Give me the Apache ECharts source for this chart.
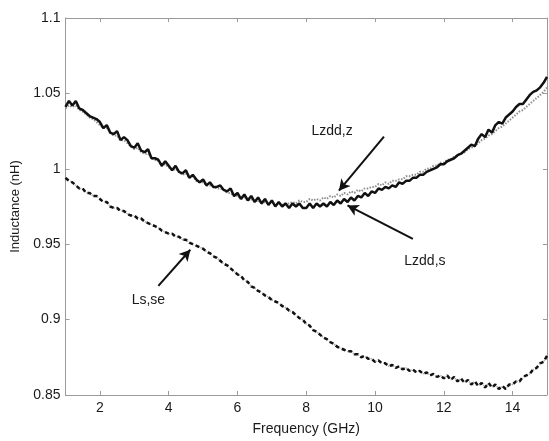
<!DOCTYPE html>
<html>
<head>
<meta charset="utf-8">
<script src="https://cdn.jsdelivr.net/npm/echarts@6/dist/echarts.min.js"></script>
<style>
html,body{margin:0;padding:0;background:#fff;}
#chart{width:549px;height:441px;}
</style>
</head>
<body>
<div id="chart"></div>
<script>
var freq = [1.0,1.1,1.2,1.3,1.4,1.5,1.6,1.7,1.8,1.9,2.0,2.1,2.2,2.3,2.4,2.5,2.6,2.7,2.8,2.9,
3.0,3.1,3.2,3.3,3.4,3.5,3.6,3.7,3.8,3.9,4.0,4.1,4.2,4.3,4.4,4.5,4.6,4.7,4.8,4.9,
5.0,5.1,5.2,5.3,5.4,5.5,5.6,5.7,5.8,5.9,6.0,6.1,6.2,6.3,6.4,6.5,6.6,6.7,6.8,6.9,
7.0,7.1,7.2,7.3,7.4,7.5,7.6,7.7,7.8,7.9,8.0,8.1,8.2,8.3,8.4,8.5,8.6,8.7,8.8,8.9,
9.0,9.1,9.2,9.3,9.4,9.5,9.6,9.7,9.8,9.9,10.0,10.1,10.2,10.3,10.4,10.5,10.6,10.7,10.8,10.9,
11.0,11.1,11.2,11.3,11.4,11.5,11.6,11.7,11.8,11.9,12.0,12.1,12.2,12.3,12.4,12.5,12.6,12.7,12.8,12.9,
13.0,13.1,13.2,13.3,13.4,13.5,13.6,13.7,13.8,13.9,14.0,14.1,14.2,14.3,14.4,14.5,14.6,14.7,14.8,14.9,15.0];

var lzddS = [1.041,1.045,1.042,1.045,1.040,1.039,1.037,1.035,1.034,1.033,1.031,1.027,1.029,1.024,1.023,1.025,1.019,1.021,1.019,1.015,
1.014,1.017,1.012,1.011,1.013,1.007,1.007,1.006,1.002,1.005,1.002,0.999,1.002,0.998,0.997,0.999,0.994,0.996,0.993,0.991,
0.993,0.989,0.991,0.988,0.988,0.989,0.986,0.985,0.987,0.982,0.984,0.980,0.983,0.979,0.982,0.978,0.981,0.977,0.980,0.976,
0.979,0.975,0.978,0.975,0.977,0.974,0.977,0.975,0.977,0.974,0.974,0.977,0.974,0.977,0.975,0.977,0.975,0.978,0.976,0.979,
0.977,0.980,0.978,0.981,0.979,0.982,0.981,0.984,0.982,0.985,0.984,0.987,0.986,0.988,0.987,0.989,0.988,0.991,0.990,0.992,
0.992,0.994,0.994,0.996,0.996,0.998,0.999,1.000,1.001,1.003,1.003,1.005,1.006,1.007,1.009,1.010,1.012,1.014,1.016,1.015,
1.020,1.023,1.021,1.026,1.024,1.029,1.031,1.030,1.034,1.036,1.038,1.041,1.043,1.043,1.046,1.049,1.051,1.052,1.054,1.057,1.061];

var lzddZ = [1.040,1.042,1.041,1.042,1.039,1.038,1.036,1.034,1.033,1.031,1.029,1.027,1.027,1.024,1.022,1.022,1.019,1.019,1.017,1.015,
1.013,1.014,1.011,1.010,1.010,1.007,1.006,1.005,1.002,1.003,1.001,0.999,1.000,0.998,0.996,0.997,0.994,0.995,0.992,0.991,
0.991,0.989,0.989,0.988,0.987,0.987,0.986,0.984,0.984,0.982,0.982,0.980,0.981,0.979,0.980,0.978,0.979,0.977,0.978,0.977,
0.978,0.976,0.977,0.976,0.977,0.977,0.978,0.977,0.979,0.978,0.978,0.980,0.979,0.980,0.979,0.981,0.980,0.982,0.981,0.983,
0.982,0.984,0.983,0.985,0.984,0.986,0.985,0.987,0.987,0.988,0.988,0.990,0.989,0.991,0.990,0.992,0.992,0.993,0.993,0.995,
0.995,0.996,0.996,0.998,0.998,1.000,1.000,1.002,1.002,1.004,1.004,1.006,1.006,1.008,1.009,1.010,1.011,1.013,1.014,1.015,
1.017,1.019,1.020,1.022,1.023,1.025,1.027,1.028,1.030,1.032,1.034,1.036,1.038,1.039,1.041,1.043,1.045,1.047,1.049,1.051,1.054];

var lsSe = [0.994,0.992,0.991,0.989,0.987,0.987,0.984,0.984,0.982,0.982,0.980,0.978,0.978,0.975,0.974,0.974,0.972,0.972,0.970,0.969,
0.969,0.967,0.967,0.965,0.964,0.963,0.962,0.961,0.959,0.958,0.957,0.957,0.955,0.955,0.953,0.953,0.951,0.950,0.949,0.948,
0.947,0.945,0.944,0.942,0.941,0.939,0.937,0.936,0.934,0.932,0.930,0.929,0.926,0.925,0.922,0.921,0.919,0.918,0.916,0.915,
0.913,0.912,0.911,0.909,0.908,0.906,0.905,0.903,0.901,0.900,0.897,0.896,0.893,0.892,0.890,0.888,0.887,0.885,0.884,0.882,
0.881,0.880,0.879,0.879,0.877,0.877,0.875,0.876,0.874,0.874,0.872,0.873,0.871,0.871,0.869,0.870,0.868,0.869,0.867,0.868,
0.866,0.867,0.865,0.866,0.864,0.865,0.863,0.864,0.862,0.863,0.861,0.863,0.860,0.862,0.859,0.861,0.858,0.860,0.857,0.859,
0.856,0.858,0.855,0.858,0.855,0.857,0.854,0.856,0.854,0.857,0.857,0.859,0.859,0.862,0.863,0.864,0.867,0.868,0.871,0.872,0.876];

var xTicks = [2,4,6,8,10,12,14];
var yTicks = [0.85,0.9,0.95,1,1.05,1.1];

// annotations: [label, labelX, labelY, arrowFromX, arrowFromY, arrowToX, arrowToY]
var notes = [
  ['Lzdd,z', 8.75, 1.0247, 10.26, 1.0214, 8.95, 0.9855],
  ['Lzdd,s', 11.45, 0.9390, 11.1, 0.9535, 9.2, 0.9757],
  ['Ls,se', 3.41, 0.9126, 3.70, 0.9224, 4.63, 0.9463]
];

function pairs(ys){ return freq.map(function(x,i){ return [x, ys[i]]; }); }

var FONT = 'Liberation Sans, Arial, Helvetica, sans-serif';
var TXT = '#1a1a1a';
var chart = echarts.init(document.getElementById('chart'), null, {renderer:'canvas'});

var tickStyle = {show:true, inside:true, length:4, lineStyle:{color:'#9a9a9a'}};
var lineStyleAxis = {show:true, lineStyle:{color:'#9a9a9a', width:1}};

var option = {
  animation:false,
  backgroundColor:'#fff',
  grid:{left:65.5, right:2, top:18, bottom:40, containLabel:false},
  xAxis:[
    {type:'value', min:1, max:15, interval:1, position:'bottom',
      name:'Frequency (GHz)', nameLocation:'middle', nameGap:27,
      nameTextStyle:{fontFamily:FONT, fontSize:14, color:TXT},
      axisLine:lineStyleAxis, splitLine:{show:false},
      axisTick:Object.assign({customValues:xTicks}, tickStyle),
      axisLabel:{fontFamily:FONT, fontSize:14, color:TXT, margin:6, customValues:xTicks}
    },
    {type:'value', min:1, max:15, interval:1, position:'top',
      axisLine:lineStyleAxis, splitLine:{show:false},
      axisTick:Object.assign({customValues:xTicks}, tickStyle),
      axisLabel:{show:false}
    }
  ],
  yAxis:[
    {type:'value', min:0.85, max:1.1, interval:0.05, position:'left',
      name:'Inductance (nH)', nameLocation:'middle', nameGap:42,
      nameTextStyle:{fontFamily:FONT, fontSize:13, color:TXT},
      axisLine:lineStyleAxis, splitLine:{show:false}, axisTick:tickStyle,
      axisLabel:{fontFamily:FONT, fontSize:14, color:TXT, margin:5,
        formatter:function(v){ return String(+v.toFixed(2)); }}
    },
    {type:'value', min:0.85, max:1.1, interval:0.05, position:'right',
      axisLine:lineStyleAxis, splitLine:{show:false}, axisTick:tickStyle,
      axisLabel:{show:false}
    }
  ],
  series:[
    {name:'Lzdd,z', type:'line', data:pairs(lzddZ), showSymbol:false, symbol:'none',
      lineStyle:{color:'#8f8f8f', width:2, type:[1.5,1.5]}, z:2},
    {name:'Lzdd,s', type:'line', data:pairs(lzddS), showSymbol:false, symbol:'none',
      lineStyle:{color:'#111', width:2.5}, z:3},
    {name:'Ls,se (ref)', type:'line', data:pairs(lsSe), showSymbol:false, symbol:'none',
      lineStyle:{color:'#b0b0b0', width:1.5, type:[1.5,1.5]}, z:2},
    {name:'Ls,se', type:'line', data:pairs(lsSe), showSymbol:false, symbol:'none',
      lineStyle:{color:'#111', width:2.5, type:[4,3]}, z:3,
      markLine:{
        silent:true, symbol:['none','arrow'], symbolSize:[9,11], animation:false,
        label:{show:false},
        lineStyle:{color:'#111', width:2, type:'solid'},
        data: notes.map(function(n){ return [{coord:[n[3], n[4]]},{coord:[n[5], n[6]]}]; })
      },
      markPoint:{
        silent:true, symbol:'circle', symbolSize:1, itemStyle:{color:'rgba(0,0,0,0)'},
        label:{show:true, position:'inside', fontFamily:FONT, fontSize:14, color:TXT,
          formatter:function(p){ return p.name; }},
        data: notes.map(function(n){ return {name:n[0], coord:[n[1], n[2]]}; })
      }
    }
  ]
};
chart.setOption(option);
</script>
</body>
</html>
